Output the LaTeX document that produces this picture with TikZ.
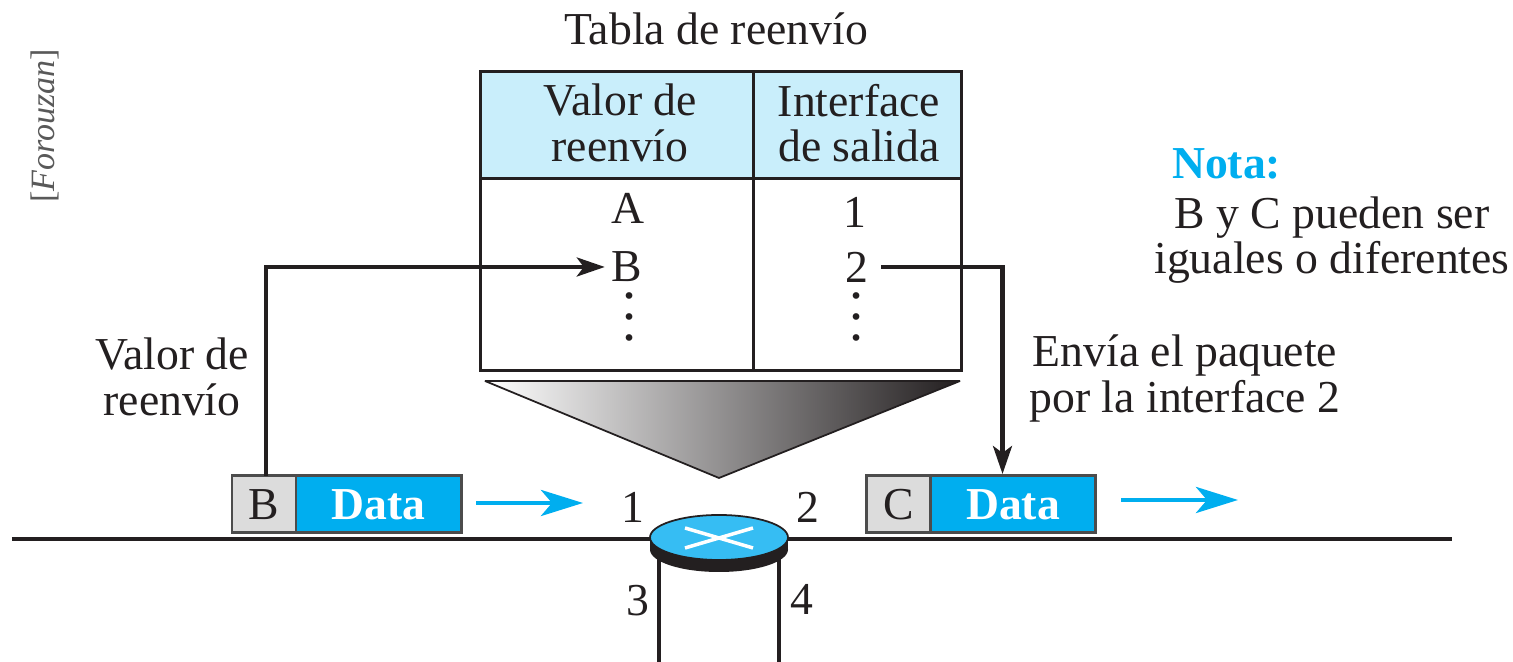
\documentclass[tikz,border=0pt]{standalone}
\usepackage{fontspec}
\setmainfont{Liberation Serif}
\usepackage{xcolor}
\usetikzlibrary{arrows.meta, positioning, calc, shapes.geometric}

\definecolor{headblue}{HTML}{C9EEFB}
\definecolor{databue}{HTML}{00AEEF}
\definecolor{routerblue}{HTML}{36BDF3}
\definecolor{boxgray}{HTML}{DCDCDC}
\definecolor{inkblack}{HTML}{231F20}

\begin{document}
\begin{tikzpicture}[
        every node/.style={text=inkblack, font=\fontsize{13}{13}\selectfont, inner sep=0pt, outer sep=0pt},
        cell/.style={rectangle, draw=inkblack, line width=0.85pt, anchor=north west, align=center},
        headcell/.style={cell, fill=headblue, minimum height=1.07cm},
        bodycell/.style={cell, fill=white, minimum height=1.92cm},
        label/.style={align=center},
        dots/.style={align=center, font=\fontsize{16}{6}\selectfont},
        tagbox/.style={rectangle, draw=black!70, line width=0.85pt, fill=boxgray, minimum width=0.64cm, minimum height=0.57cm},
        databox/.style={rectangle, draw=black!70, line width=0.85pt, fill=databue, minimum width=1.65cm, minimum height=0.57cm, text=white, font=\fontsize{13}{13}\selectfont\bfseries},
        wire/.style={draw=inkblack, line width=1.4pt},
        link/.style={draw=inkblack, line width=1.15pt, -{Stealth[length=0.28cm, width=0.19cm, inset=0.07cm]}},
        flow/.style={draw=databue, line width=1.4pt, -{Stealth[length=0.42cm, width=0.26cm, inset=0.11cm]}}
    ]
        \useasboundingbox (0,0) rectangle (15.13,6.62);

        % --- Table ---
        \node[label] (title) at (7.16,6.33) {Tabla de reenvío};
        \node[headcell, minimum width=2.73cm] (valhead) at (4.80,5.90) {};
        \node[headcell, minimum width=2.08cm] (ifhead) [right=0cm of valhead] {};
        \node[bodycell, minimum width=2.73cm] (valbody) [below=0cm of valhead] {};
        \node[bodycell, minimum width=2.08cm] (ifbody) [below=0cm of ifhead] {};
        \node[label] (valtext) at (6.20,5.39) {Valor de\\reenvío};
        \node[label] (iftext) at (8.59,5.39) {Interface\\de salida};

        % Rows
        \node (rowA) at (6.28,4.54) {A};
        \node (rowB) at (6.27,3.95) {B};
        \node (rowone) at (8.55,4.50) {1};
        \node (rowtwo) at (8.57,3.95) {2};
        \node[dots] (valdots) at (6.30,3.45) {.\\.\\.};
        \node[dots] (ifdots) at (8.57,3.45) {.\\.\\.};

        % Funnel
        \shade[draw=inkblack, line width=0.5pt, line join=bevel, left color=white, right color=inkblack]
            (4.85,2.81) -- (9.60,2.81) -- (7.19,1.84) -- cycle;

        % --- Wires and router ---
        \coordinate (wireL) at (0.12,1.23);
        \coordinate (wireR) at (14.52,1.23);
        \coordinate (portA) at (6.59,1.20);
        \coordinate (portAend) at (6.59,0);
        \coordinate (portB) at (7.79,1.20);
        \coordinate (portBend) at (7.79,0);
        \draw[wire] (wireL) -- (wireR);
        \draw[wire] (portA) -- (portAend);
        \draw[wire] (portB) -- (portBend);

        \node[ellipse, fill=inkblack, minimum width=1.38cm, minimum height=0.45cm] (routerbase) at (7.19,1.125) {};
        \fill[inkblack] (routerbase.west) rectangle ($(routerbase.east)+(0,0.12)$);
        \node[ellipse, draw=inkblack, line width=0.5pt, fill=routerblue, minimum width=1.38cm, minimum height=0.45cm] (router) at (7.19,1.245) {};
        \draw[white, line width=1pt] (6.85,1.34) -- (7.53,1.14);
        \draw[white, line width=1pt] (6.85,1.14) -- (7.53,1.34);

        % Port labels
        \node (pone) at (6.33,1.55) {1};
        \node (ptwo) at (8.08,1.55) {2};
        \node (pthree) at (6.38,0.61) {3};
        \node (pfour) at (8.02,0.63) {4};

        % --- Packets ---
        \node[tagbox] (tagB) at (2.64,1.575) {B};
        \node[databox] (dataB) [right=0cm of tagB] {Data};
        \node[tagbox] (tagC) at (8.985,1.575) {C};
        \node[databox] (dataC) [right=0cm of tagC] {Data};

        % --- Connections ---
        \draw[link] ([xshift=0.02cm]tagB.north) |- ([xshift=-0.07cm]rowB.west);
        \draw[link] ([xshift=0.13cm]rowtwo.east) -| ($(tagC.north east)+(0.72,0.02)$);

        \coordinate (flowAs) at (4.76,1.59);
        \coordinate (flowAe) at (5.83,1.59);
        \coordinate (flowBs) at (11.21,1.62);
        \coordinate (flowBe) at (12.38,1.62);
        \draw[flow] (flowAs) -- (flowAe);
        \draw[flow] (flowBs) -- (flowBe);

        % --- Labels ---
        \node[label] (fwdlabel) at (1.72,2.85) {Valor de\\reenvío};
        \node[label] (sendlabel) at (11.85,2.835) {Envía el paquete\\por la interface 2};
        \node[anchor=west, text=databue, font=\fontsize{13}{13}\selectfont\bfseries] (nota) at (11.72,4.98) {Nota:};
        \node[label] (notatext) at (13.32,4.22) {B y C pueden ser\\iguales o diferentes};
        \node[rotate=90, text=black!65, font=\fontsize{9.7}{10}\selectfont\itshape] (source) at (0.45,5.36) {\textup{[}Forouzan\textup{]}};
    \end{tikzpicture}
\end{document}
